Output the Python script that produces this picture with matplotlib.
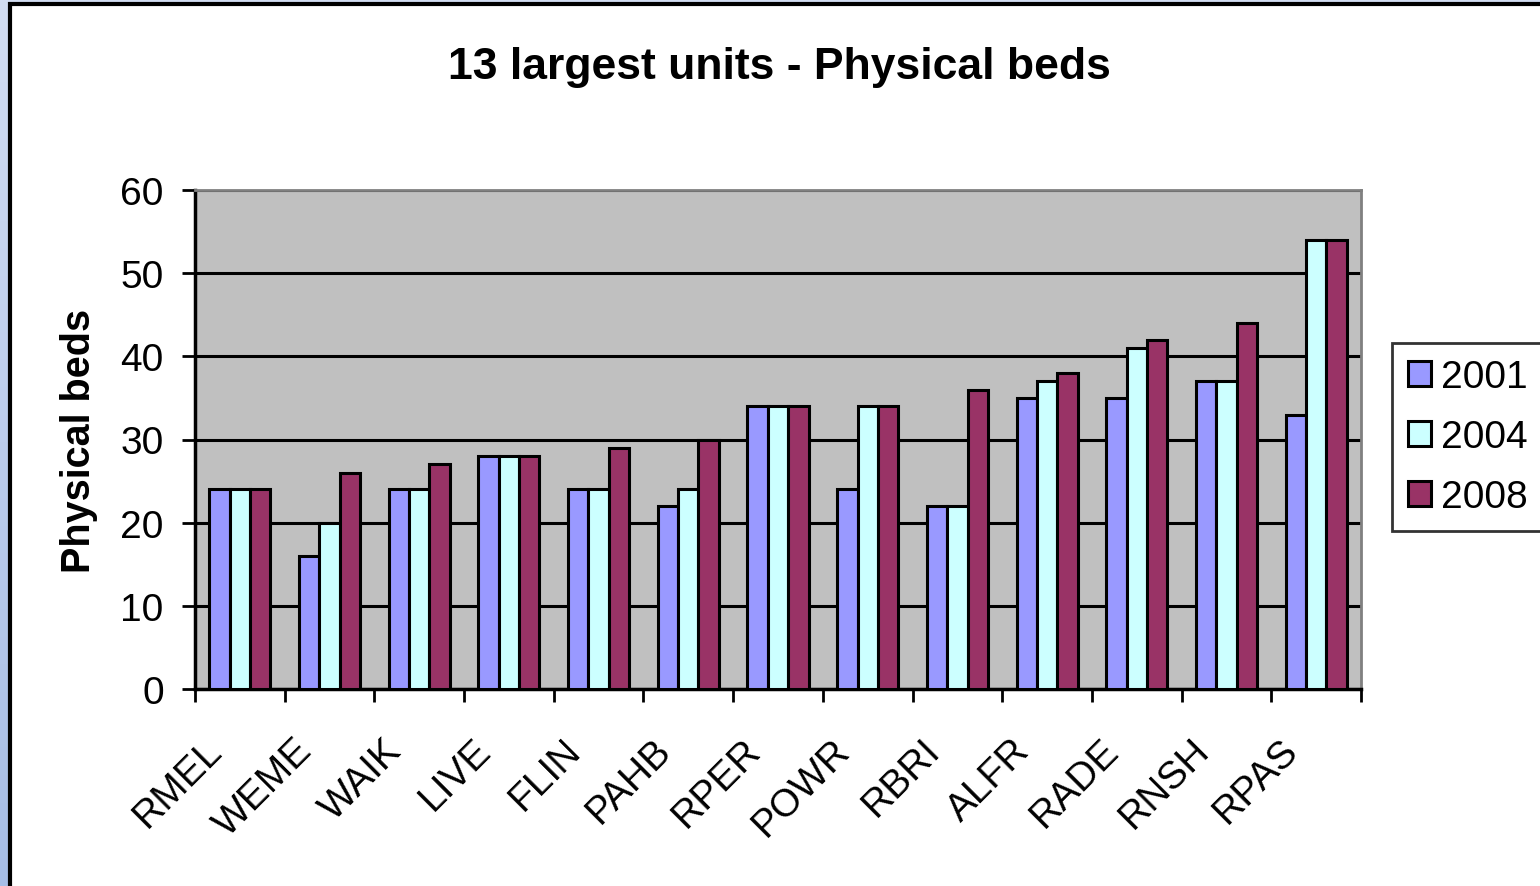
import numpy as np
import matplotlib
matplotlib.use("Agg")
import matplotlib.pyplot as plt
from matplotlib.patches import Rectangle
from matplotlib.transforms import ScaledTranslation

plt.rcParams['font.family'] = ['Liberation Sans', 'DejaVu Sans']

# Datos
unidades = ['RMEL', 'WEME', 'WAIK', 'LIVE', 'FLIN', 'PAHB', 'RPER',
            'POWR', 'RBRI', 'ALFR', 'RADE', 'RNSH', 'RPAS']
anios = ['2001', '2004', '2008']
camas_2001 = [24, 16, 24, 28, 24, 22, 34, 24, 22, 35, 35, 37, 33]
camas_2004 = [24, 20, 24, 28, 24, 24, 34, 34, 22, 37, 41, 37, 54]
camas_2008 = [24, 26, 27, 28, 29, 30, 34, 34, 36, 38, 42, 44, 54]
colores = ['#9999FF', '#CCFFFF', '#993366']

fig = plt.figure(figsize=(15.4, 8.87), dpi=100)

# Fondo azul degradado (marco exterior)
bg = fig.add_axes([0, 0, 1, 1], zorder=-10)
grad = np.linspace(0, 1, 256).reshape(-1, 1)
cmap = matplotlib.colors.LinearSegmentedColormap.from_list('bg', ['#D2DDF2', '#A6BDE6'])
bg.imshow(grad, aspect='auto', cmap=cmap, extent=[0, 1, 0, 1])
bg.set_axis_off()

# Area blanca del grafico
fig.patches.append(Rectangle((10 / 1540, -0.05), 1.2, 1.05 - 5 / 887,
                             transform=fig.transFigure, facecolor='white',
                             edgecolor='black', linewidth=3, zorder=-5))

ax = fig.add_axes([195 / 1540, 1 - 690 / 887, (1361 - 195) / 1540, (690 - 191) / 887])
ax.set_facecolor('#C0C0C0')

x = np.arange(len(unidades))
ancho = 0.227
series = [camas_2001, camas_2004, camas_2008]
for i, (vals, anio) in enumerate(zip(series, anios)):
    ax.bar(x + (i - 1) * ancho, vals, width=ancho, color=colores[i],
           edgecolor='black', linewidth=2.2, label=anio, zorder=3)

ax.set_xlim(-0.5, len(unidades) - 0.5)
ax.set_ylim(0, 60)
ax.set_yticks(range(0, 61, 10))
ax.yaxis.grid(True, color='black', linewidth=2.2, zorder=1)
ax.set_axisbelow(True)

# Ticks en los limites de categoria
ax.set_xticks(np.arange(-0.5, len(unidades)), minor=False)
ax.set_xticklabels([])
ax.set_xticks(x, minor=True)
ax.set_xticklabels(unidades, minor=True, rotation=45, ha='right', va='top',
                   rotation_mode='anchor', fontsize=28)
ax.tick_params(axis='x', which='minor', length=0, pad=22)
ax.tick_params(axis='x', which='major', length=9.5, width=2, direction='out')
ax.tick_params(axis='y', length=9.5, width=2, labelsize=28, pad=13)

# desplazamiento de las etiquetas rotadas
desp = ScaledTranslation(-0.36, -0.12, fig.dpi_scale_trans)
for lbl in ax.get_xticklabels(minor=True):
    lbl.set_transform(lbl.get_transform() + desp)

for lado in ['left', 'bottom']:
    ax.spines[lado].set_linewidth(2.5)
    ax.spines[lado].set_color('black')
for lado in ['top', 'right']:
    ax.spines[lado].set_linewidth(2)
    ax.spines[lado].set_color('#808080')

ax.set_ylabel('Physical beds', fontsize=28.5, fontweight='bold', labelpad=16)

fig.text(779 / 1540, 1 - 68 / 887, '13 largest units - Physical beds',
         fontsize=32, fontweight='bold', ha='center', va='center')

leg = ax.legend(loc='center left', bbox_to_anchor=(1392 / 1540, 1 - 438 / 887),
                bbox_transform=fig.transFigure, fontsize=28, frameon=True,
                fancybox=False, edgecolor='black', handlelength=0.6,
                handleheight=0.6, handletextpad=0.25, borderpad=0.4,
                labelspacing=0.62, borderaxespad=0)
leg.get_frame().set_linewidth(2)

fig.savefig('out.png', dpi=100)
